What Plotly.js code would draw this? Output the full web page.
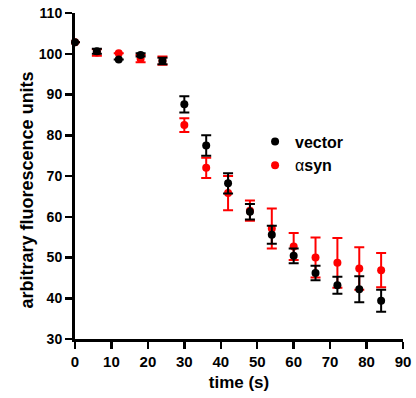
<!DOCTYPE html>
<html>
<head>
<meta charset="utf-8">
<script src="https://cdn.plot.ly/plotly-3.0.1.min.js"></script>
<style>html,body{margin:0;padding:0;background:#fff;}#chart{width:416px;height:398px;}</style>
</head>
<body>
<div id="chart"></div>
<script>
const timeS = [0, 6, 12, 18, 24, 30, 36, 42, 48, 54, 60, 66, 72, 78, 84];
const vectorVals = [102.8, 100.6, 98.6, 99.7, 98.2, 87.6, 77.5, 68.2, 61.2, 55.6, 50.4, 46.2, 43.2, 42.2, 39.4];
const vectorErr  = [0, 0.6, 0, 0.4, 0.8, 2.0, 2.5, 2.5, 1.9, 2.2, 1.8, 1.8, 2.1, 3.2, 2.7];
const asynVals   = [102.8, 100.3, 100.1, 98.8, 98.3, 82.5, 72.0, 65.8, 61.5, 57.1, 52.7, 50.0, 48.7, 47.3, 46.9];
const asynErr    = [0, 0.8, 0, 0.9, 1.0, 1.7, 2.5, 4.2, 2.5, 4.9, 3.3, 4.9, 6.1, 5.2, 4.2];
const xTicks = [0, 10, 20, 30, 40, 50, 60, 70, 80, 90];
const yTicks = [30, 40, 50, 60, 70, 80, 90, 100, 110];

const FONT = 'Arial, "Liberation Sans", sans-serif';

const traces = [
  {
    x: timeS, y: asynVals, type: 'scatter', mode: 'markers',
    name: "<span style='font-weight:normal'>α</span>syn",
    marker: {color: '#ff0000', size: 8},
    error_y: {type: 'data', array: asynErr, visible: true, color: '#ff0000', thickness: 2, width: 5},
    cliponaxis: false
  },
  {
    x: timeS, y: vectorVals, type: 'scatter', mode: 'markers',
    name: 'vector',
    marker: {color: '#000000', size: 8},
    error_y: {type: 'data', array: vectorErr, visible: true, color: '#000000', thickness: 2, width: 5},
    cliponaxis: false
  }
];

const layout = {
  width: 416, height: 398,
  margin: {l: 75, r: 13, t: 13, b: 59},
  paper_bgcolor: '#fff', plot_bgcolor: '#fff',
  showlegend: true,
  legend: {
    x: 0.549, y: 0.658, xanchor: 'left', yanchor: 'top',
    traceorder: 'reversed',
    font: {family: FONT, size: 16, weight: 'bold', color: '#000'},
    bgcolor: 'rgba(0,0,0,0)'
  },
  xaxis: {
    range: [0, 90], tickvals: xTicks, ticktext: xTicks.map(String),
    showgrid: false, zeroline: false,
    showline: true, linewidth: 3, linecolor: '#000',
    ticks: 'outside', ticklen: 7, tickwidth: 2.5, tickcolor: '#000',
    tickfont: {family: FONT, size: 15, weight: 'bold', color: '#000'},
    title: {text: 'time (s)', font: {family: FONT, size: 17, weight: 'bold', color: '#000'}, standoff: 8}
  },
  yaxis: {
    range: [30, 110], tickvals: yTicks, ticktext: yTicks.map(String),
    showgrid: false, zeroline: false,
    showline: true, linewidth: 3, linecolor: '#000',
    ticks: 'outside', ticklen: 7, tickwidth: 2.5, tickcolor: '#000',
    tickfont: {family: FONT, size: 14, weight: 'bold', color: '#000'}
  },
  annotations: [{
    text: 'arbitrary fluorescence units', textangle: -90,
    xref: 'paper', yref: 'paper', x: -0.146, y: 0.456,
    xanchor: 'center', yanchor: 'middle', showarrow: false,
    font: {family: FONT, size: 18, weight: 'bold', color: '#000'}
  }]
};

Plotly.newPlot('chart', traces, layout, {displayModeBar: false, staticPlot: true});
</script>
</body>
</html>
